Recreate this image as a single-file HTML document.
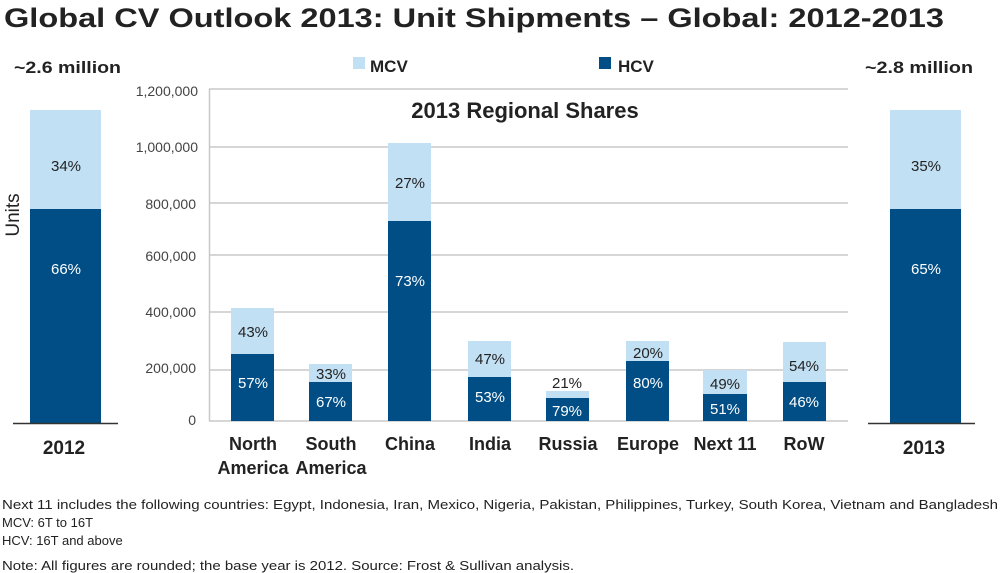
<!DOCTYPE html>
<html><head><meta charset="utf-8"><style>
html,body{margin:0;padding:0;background:#fff;}
svg{display:block;font-family:"Liberation Sans",sans-serif;}
</style></head><body>
<svg width="1000" height="573" viewBox="0 0 1000 573" xmlns="http://www.w3.org/2000/svg">
<text x="4" y="27" font-size="27" font-weight="bold" fill="#222" textLength="940" lengthAdjust="spacingAndGlyphs">Global CV Outlook 2013: Unit Shipments – Global: 2012-2013</text>
<!-- left 2012 -->
<text x="14" y="73" font-size="17" font-weight="bold" fill="#222" textLength="107" lengthAdjust="spacingAndGlyphs">~2.6 million</text>
<rect x="30" y="110" width="71" height="99" fill="#c2e0f4"/>
<rect x="30" y="209" width="71" height="214" fill="#004e85"/>
<line x1="13" y1="423.5" x2="118" y2="423.5" stroke="#333" stroke-width="1.5"/>
<text x="66" y="171" font-size="15" fill="#222" text-anchor="middle">34%</text>
<text x="66" y="274" font-size="15" fill="#fff" text-anchor="middle">66%</text>
<text x="64" y="454" font-size="19" font-weight="bold" fill="#222" text-anchor="middle">2012</text>
<text transform="translate(19,215) rotate(-90)" font-size="19" fill="#222" text-anchor="middle">Units</text>
<!-- right 2013 -->
<text x="865" y="73" font-size="17" font-weight="bold" fill="#222" textLength="108" lengthAdjust="spacingAndGlyphs">~2.8 million</text>
<rect x="890" y="110" width="71" height="99" fill="#c2e0f4"/>
<rect x="890" y="209" width="71" height="214" fill="#004e85"/>
<line x1="868" y1="423.5" x2="975" y2="423.5" stroke="#333" stroke-width="1.5"/>
<text x="926" y="171" font-size="15" fill="#222" text-anchor="middle">35%</text>
<text x="926" y="274" font-size="15" fill="#fff" text-anchor="middle">65%</text>
<text x="924" y="454" font-size="19" font-weight="bold" fill="#222" text-anchor="middle">2013</text>
<!-- legend -->
<rect x="353" y="57" width="12" height="12" fill="#c2e0f4"/>
<text x="370" y="72" font-size="17" font-weight="bold" fill="#222">MCV</text>
<rect x="599" y="57" width="12" height="12" fill="#004e85"/>
<text x="618" y="72" font-size="17" font-weight="bold" fill="#222">HCV</text>
<!-- grid -->
<g stroke="#c8c8c8" stroke-width="1.5">
<line x1="209" y1="89" x2="848" y2="89"/>
<line x1="209" y1="147" x2="848" y2="147"/>
<line x1="209" y1="203" x2="848" y2="203"/>
<line x1="209" y1="255" x2="848" y2="255"/>
<line x1="209" y1="312" x2="848" y2="312"/>
<line x1="209" y1="370" x2="848" y2="370"/>
<line x1="209" y1="421" x2="848" y2="421"/>
<line x1="209.5" y1="89" x2="209.5" y2="421"/>
</g>
<g font-size="14" fill="#444" text-anchor="end">
<text x="198" y="96">1,200,000</text>
<text x="198" y="152">1,000,000</text>
<text x="196" y="209">800,000</text>
<text x="196" y="261">600,000</text>
<text x="196" y="317">400,000</text>
<text x="196" y="373">200,000</text>
<text x="196" y="425">0</text>
</g>
<text x="525" y="118" font-size="22" font-weight="bold" fill="#222" text-anchor="middle">2013 Regional Shares</text>
<!-- bars -->
<g>
<rect x="231" y="308" width="43" height="46" fill="#c2e0f4"/><rect x="231" y="354" width="43" height="67" fill="#004e85"/>
<rect x="309" y="364" width="43" height="18" fill="#c2e0f4"/><rect x="309" y="382" width="43" height="39" fill="#004e85"/>
<rect x="388" y="143" width="43" height="78" fill="#c2e0f4"/><rect x="388" y="221" width="43" height="200" fill="#004e85"/>
<rect x="468" y="341" width="43" height="36" fill="#c2e0f4"/><rect x="468" y="377" width="43" height="44" fill="#004e85"/>
<rect x="546" y="391" width="43" height="7" fill="#c2e0f4"/><rect x="546" y="398" width="43" height="23" fill="#004e85"/>
<rect x="626" y="341" width="43" height="20" fill="#c2e0f4"/><rect x="626" y="361" width="43" height="60" fill="#004e85"/>
<rect x="703" y="370" width="44" height="24" fill="#c2e0f4"/><rect x="703" y="394" width="44" height="27" fill="#004e85"/>
<rect x="783" y="342" width="43" height="40" fill="#c2e0f4"/><rect x="783" y="382" width="43" height="39" fill="#004e85"/>
</g>
<g font-size="15" text-anchor="middle">
<text x="253" y="337" fill="#222">43%</text><text x="253" y="388" fill="#fff">57%</text>
<text x="331" y="379" fill="#222">33%</text><text x="331" y="407" fill="#fff">67%</text>
<text x="410" y="188" fill="#222">27%</text><text x="410" y="286" fill="#fff">73%</text>
<text x="490" y="364" fill="#222">47%</text><text x="490" y="402" fill="#fff">53%</text>
<text x="567" y="388" fill="#222">21%</text><text x="567" y="416" fill="#fff">79%</text>
<text x="648" y="358" fill="#222">20%</text><text x="648" y="388" fill="#fff">80%</text>
<text x="725" y="389" fill="#222">49%</text><text x="725" y="414" fill="#fff">51%</text>
<text x="804" y="371" fill="#222">54%</text><text x="804" y="407" fill="#fff">46%</text>
</g>
<g font-size="18" font-weight="bold" fill="#222" text-anchor="middle">
<text x="253" y="450">North</text><text x="253" y="474">America</text>
<text x="331" y="450">South</text><text x="331" y="474">America</text>
<text x="410" y="450">China</text>
<text x="490" y="450">India</text>
<text x="568" y="450">Russia</text>
<text x="648" y="450">Europe</text>
<text x="725" y="450">Next 11</text>
<text x="804" y="450">RoW</text>
</g>
<g font-size="13" fill="#222">
<text x="2" y="509" textLength="996" lengthAdjust="spacingAndGlyphs">Next 11 includes the following countries: Egypt, Indonesia, Iran, Mexico, Nigeria, Pakistan, Philippines, Turkey, South Korea, Vietnam and Bangladesh</text>
<text x="2" y="527">MCV: 6T to 16T</text>
<text x="2" y="545">HCV: 16T and above</text>
<text x="2" y="570" textLength="572" lengthAdjust="spacingAndGlyphs">Note: All figures are rounded; the base year is 2012. Source: Frost &amp; Sullivan analysis.</text>
</g>
</svg>
</body></html>
